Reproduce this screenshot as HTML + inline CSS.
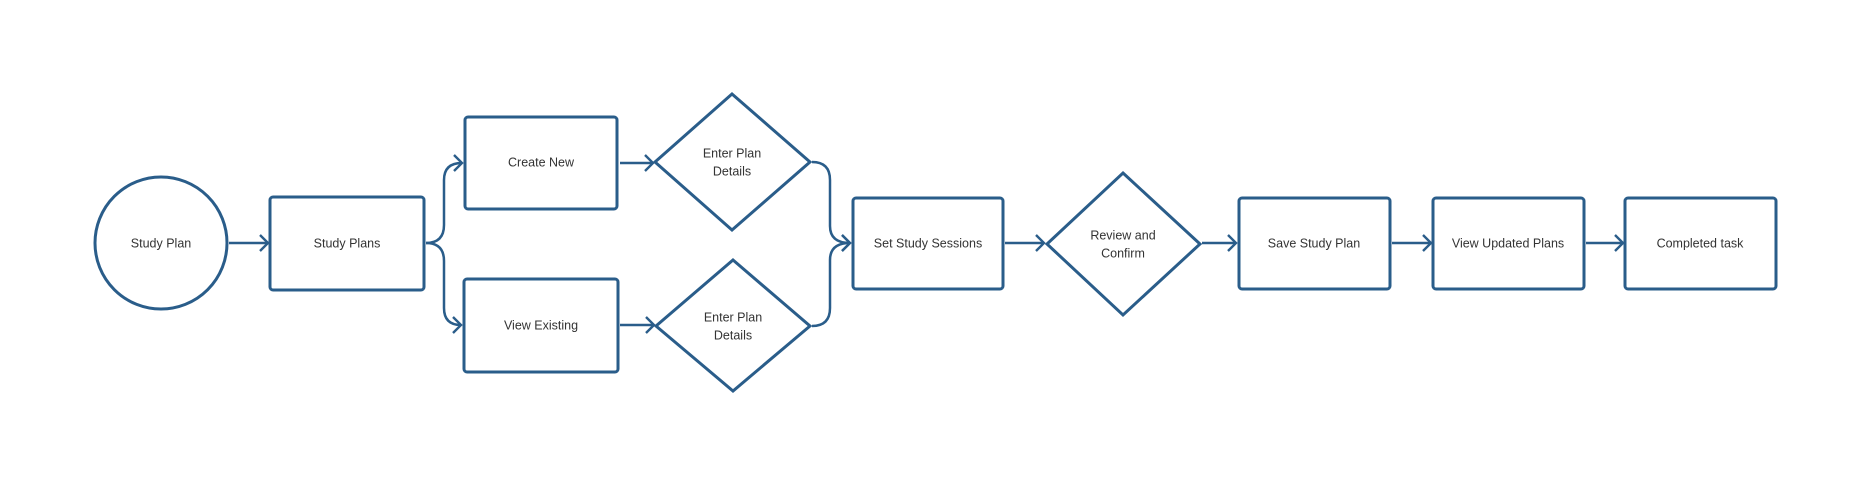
<!DOCTYPE html>
<html><head><meta charset="utf-8"><style>
html,body{margin:0;padding:0;background:#fff;}
svg{display:block}
text{font-family:"Liberation Sans",sans-serif;font-size:12.5px;fill:#333;text-anchor:middle;dominant-baseline:middle}
</style></head><body>
<svg width="1871" height="487" viewBox="0 0 1871 487">
<defs><marker id="a" markerWidth="12" markerHeight="18" refX="10" refY="9" orient="auto" markerUnits="userSpaceOnUse"><path d="M2,1 L10,9 L2,17" fill="none" stroke="#2a5d8a" stroke-width="2.4"/></marker></defs>
<g fill="none" stroke="#2a5d8a" stroke-width="3">
<circle cx="161" cy="243" r="66"/>
<rect x="270" y="197" width="154" height="93" rx="3"/>
<rect x="465" y="117" width="152" height="92" rx="3"/>
<rect x="464" y="279" width="154" height="93" rx="3"/>
<polygon points="732,94 810,162 732,230 655,162"/>
<polygon points="733,260 810,326 733,391 656,326"/>
<rect x="853" y="198" width="150" height="91" rx="3"/>
<polygon points="1123,173 1200,244 1123,315 1047,244"/>
<rect x="1239" y="198" width="151" height="91" rx="3"/>
<rect x="1433" y="198" width="151" height="91" rx="3"/>
<rect x="1625" y="198" width="151" height="91" rx="3"/>
</g>
<g fill="none" stroke="#2a5d8a" stroke-width="2.5" marker-end="url(#a)">
<path d="M229,243 H268"/>
<path d="M426,243 Q444,243 444,225 V180 Q444,163 462,163"/>
<path d="M426,243 Q444,243 444,261 V308 Q444,325 461,325"/>
<path d="M620,163 H653"/>
<path d="M620,325 H654"/>
<path d="M812,162 Q830,162 830,180 V226 Q830,243 850,243"/>
<path d="M812,326 Q830,326 830,308 V260 Q830,243 850,243"/>
<path d="M1005,243 H1044"/>
<path d="M1202,243 H1236"/>
<path d="M1392,243 H1431"/>
<path d="M1586,243 H1623"/>
</g>
<text x="161" y="244">Study Plan</text>
<text x="347" y="244">Study Plans</text>
<text x="541" y="163">Create New</text>
<text x="541" y="326">View Existing</text>
<text x="732" y="154">Enter Plan</text>
<text x="732" y="172">Details</text>
<text x="733" y="318">Enter Plan</text>
<text x="733" y="336">Details</text>
<text x="928" y="244">Set Study Sessions</text>
<text x="1123" y="236">Review and</text>
<text x="1123" y="254">Confirm</text>
<text x="1314" y="244">Save Study Plan</text>
<text x="1508" y="244">View Updated Plans</text>
<text x="1700" y="244">Completed task</text>
</svg>
</body></html>
